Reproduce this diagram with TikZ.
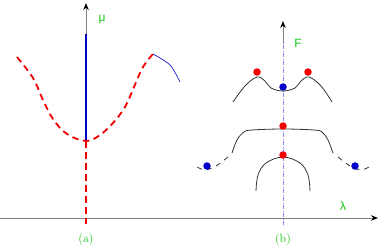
\documentclass[tikz,border=0pt]{standalone}
\usepackage{fontspec}
\newfontfamily\sansfont{Liberation Sans}
\usetikzlibrary{arrows.meta}
\definecolor{lblgreen}{RGB}{20,200,20}
\definecolor{dotred}{RGB}{240,0,0}
\definecolor{dotblue}{RGB}{0,0,200}
\definecolor{axisgray}{RGB}{130,130,130}
\definecolor{dashblue}{RGB}{130,130,255}
\tikzset{
  axisline/.style={draw=axisgray, line width=1pt, -{Stealth[black,length=7pt,width=5.5pt]}},
  reddash/.style={draw=dotred, line width=1.8pt, dash pattern=on 6.5pt off 4.5pt},
  curve/.style={draw=black!80, line width=0.8pt},
  dcurve/.style={draw=black!80, line width=0.8pt, dash pattern=on 5pt off 5pt},
  rdot/.style={circle, fill=dotred, inner sep=0pt, minimum size=7.5pt},
  bdot/.style={circle, fill=dotblue, inner sep=0pt, minimum size=7.5pt},
  lbl/.style={text=lblgreen, inner sep=0pt},
}
\begin{document}
\begin{tikzpicture}[x=1pt,y=-1pt]
\useasboundingbox (0,0) rectangle (382,249);
% axes
\coordinate (hstart) at (0,218);
\coordinate (hend) at (378,218);
\draw[axisline] (hstart) -- (hend);
% left panel
\coordinate (amin) at (86,141);
\coordinate (abot) at (86,224);
\coordinate (atopblue) at (86,34);
\coordinate (atop) at (86,3);
\draw[axisline] (atopblue) -- (atop);
\draw[draw=dotblue, line width=2.5pt] (amin) -- (atopblue);
\draw[reddash] (amin) -- (abot);
\draw[reddash] plot[smooth, tension=0.6] coordinates {(17,57) (33,78) (43,100) (53,119) (67,134) (86,141) (100,135) (113,123) (125,107) (134,87) (143,67) (153,54)};
\draw[draw=dotblue, line width=0.6pt] plot[smooth] coordinates {(153,54) (170,65) (180,82)};
\node[lbl, font=\sansfont\large] (mu) at (102,19) {μ};
\node[lbl, font=\large] (la) at (86,240) {(a)};
% right panel
\coordinate (bbot) at (283,225);
\coordinate (bmid) at (283,43);
\coordinate (btop) at (283,21);
\draw[draw=dashblue, line width=0.9pt, dash pattern=on 4pt off 1.5pt on 1pt off 1.5pt] (bbot) -- (bmid);
\draw[axisline] (bmid) -- (btop);
\node[lbl, font=\sansfont\large] (F) at (298,43) {F};
\node[lbl, font=\sansfont\large] (lam) at (343,206) {λ};
\node[lbl, font=\large] (lb) at (283,240) {(b)};
% top curve
\draw[curve] plot[smooth, tension=0.6] coordinates {(233,102) (245,86) (257,77) (265,81) (271,88) (283,91) (295,88) (301,81) (309,77) (321,86) (332,102)};
% middle curve
\draw[curve] plot[smooth, tension=0.6] coordinates {(232,153) (237,140) (244,132) (252,130) (283,129) (314,130) (322,132) (328,140) (333,153)};
\draw[dcurve] plot[smooth] coordinates {(228,157) (216,166) (205,170) (195,166)};
\draw[dcurve] plot[smooth] coordinates {(338,157) (350,166) (361,170) (371,166)};
% bottom curve
\draw[curve] plot[smooth, tension=0.6] coordinates {(256,191) (258,175) (266,163) (283,157) (300,163) (308,175) (310,191)};
% dots
\node[rdot] (r1) at (257,72) {};
\node[rdot] (r2) at (308,72) {};
\node[bdot] (b1) at (283,87) {};
\node[rdot] (r3) at (283,126) {};
\node[rdot] (r4) at (283,155) {};
\node[bdot] (b2) at (207,166) {};
\node[bdot] (b3) at (355,166) {};
\end{tikzpicture}
\end{document}
